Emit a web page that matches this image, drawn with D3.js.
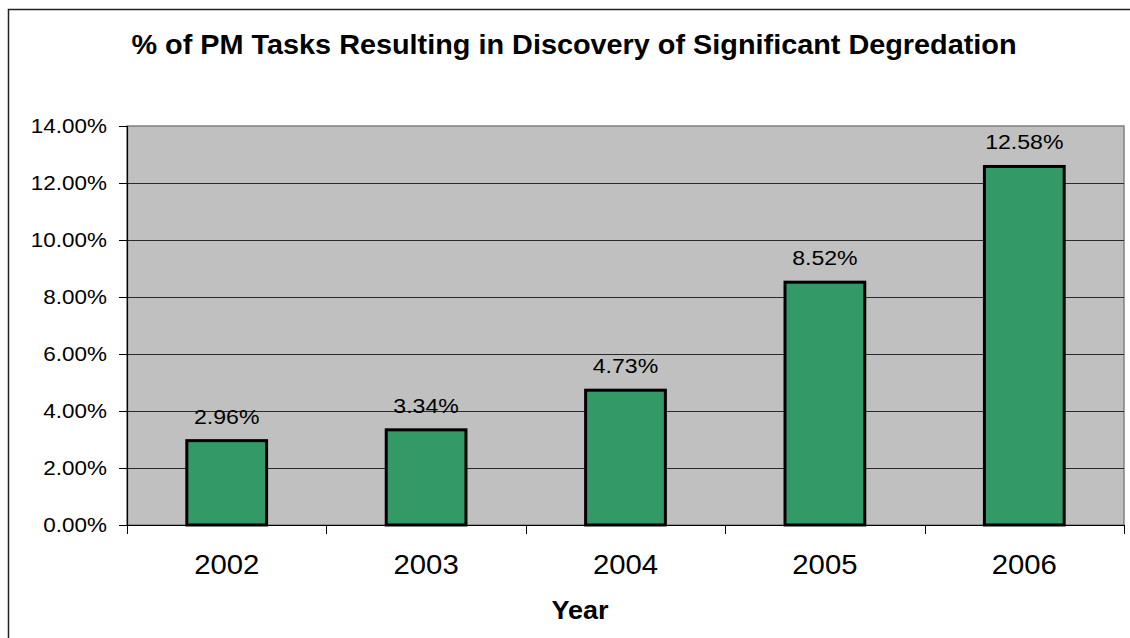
<!DOCTYPE html>
<html>
<head>
<meta charset="utf-8">
<script src="https://cdn.jsdelivr.net/npm/d3@7"></script>
<style>
  html, body { margin: 0; padding: 0; background: #fff; }
  svg { display: block; font-family: "Liberation Sans", Arial, sans-serif; }
</style>
</head>
<body>
<svg id="chart" width="1130" height="638"></svg>
<script>
// Share of PM tasks that turned up significant degradation, per year
const years = ["2002", "2003", "2004", "2005", "2006"];
const shares = [2.96, 3.34, 4.73, 8.52, 12.58];
const yTicks = [0, 2, 4, 6, 8, 10, 12, 14];

const svg = d3.select("#chart");
const W = 1130, H = 638;
const plot = { left: 127, top: 126, right: 1124, bottom: 525 };

// the chart's lettering is set slightly wide
const place = (px, py, sx) => `translate(${px},${py}) scale(${sx},1)`;

// outer chart frame
svg.append("rect")
  .attr("x", 8.5).attr("y", 9.5)
  .attr("width", W + 10).attr("height", H + 10)
  .attr("fill", "#fff").attr("stroke", "#222").attr("stroke-width", 1.5);

const x = d3.scaleBand().domain(years).range([plot.left, plot.right]).paddingInner(0).paddingOuter(0);
const y = d3.scaleLinear().domain([0, 14]).range([plot.bottom, plot.top]);

// plot background
svg.append("rect")
  .attr("x", plot.left).attr("y", plot.top)
  .attr("width", plot.right - plot.left).attr("height", plot.bottom - plot.top)
  .attr("fill", "#c0c0c0").attr("stroke", "#808080").attr("stroke-width", 1.5);

// horizontal gridlines
svg.append("g").selectAll("line")
  .data(yTicks.filter(t => t > 0 && t < 14))
  .join("line")
  .attr("x1", plot.left).attr("x2", plot.right)
  .attr("y1", d => Math.round(y(d)) + 0.5).attr("y2", d => Math.round(y(d)) + 0.5)
  .attr("stroke", "#2a2a2a").attr("stroke-width", 1);

// bars
const barW = x.bandwidth() * 0.4;
const rows = years.map((k, i) => ({ k, v: shares[i] }));
svg.append("g").selectAll("rect")
  .data(rows)
  .join("rect")
  .attr("x", d => x(d.k) + (x.bandwidth() - barW) / 2)
  .attr("y", d => y(d.v))
  .attr("width", barW)
  .attr("height", d => y(0) - y(d.v))
  .attr("fill", "#339966")
  .attr("stroke", "#000").attr("stroke-width", 3);

// value labels
svg.append("g").selectAll("text")
  .data(rows)
  .join("text")
  .attr("transform", d => place(x(d.k) + x.bandwidth() / 2, y(d.v) - 17, 1.1))
  .attr("text-anchor", "middle")
  .attr("font-size", 21)
  .attr("fill", "#000")
  .text(d => d.v.toFixed(2) + "%");

// y axis
const yAxis = d3.axisLeft(y).tickValues(yTicks).tickSize(8).tickPadding(12)
  .tickFormat(d => d.toFixed(2) + "%");
const gy = svg.append("g").attr("transform", `translate(${plot.left},0)`).call(yAxis);
gy.select(".domain").attr("stroke", "#000").attr("stroke-width", 1.2).attr("d", `M0.5,${plot.top}V${plot.bottom}`);
gy.selectAll(".tick line").attr("stroke", "#000");
gy.selectAll(".tick text")
  .attr("x", null)
  .attr("transform", place(-20, 0, 1.07))
  .attr("font-size", 21).attr("font-family", "Liberation Sans, Arial, sans-serif").attr("fill", "#000");

// x axis: ticks sit on the category boundaries
const gx = svg.append("g").attr("transform", `translate(0,${plot.bottom})`);
gx.append("line")
  .attr("x1", plot.left).attr("x2", plot.right)
  .attr("y1", 0.5).attr("y2", 0.5)
  .attr("stroke", "#000").attr("stroke-width", 1.2);
const bounds = years.map(k => x(k)).concat([plot.right]);
gx.selectAll("line.tk").data(bounds).join("line").attr("class", "tk")
  .attr("x1", d => Math.round(d) + 0.5).attr("x2", d => Math.round(d) + 0.5)
  .attr("y1", 0).attr("y2", 9)
  .attr("stroke", "#000");
gx.selectAll("text").data(years).join("text")
  .attr("transform", d => place(x(d) + x.bandwidth() / 2, 49, 1.085))
  .attr("text-anchor", "middle")
  .attr("font-size", 27)
  .attr("fill", "#000")
  .text(d => d);

// axis title
svg.append("text")
  .attr("transform", place(580, 619, 1.08))
  .attr("text-anchor", "middle")
  .attr("font-size", 25).attr("font-weight", "bold")
  .text("Year");

// chart title
svg.append("text")
  .attr("transform", place(574, 54, 1.03))
  .attr("text-anchor", "middle")
  .attr("font-size", 28).attr("font-weight", "bold")
  .text("% of PM Tasks Resulting in Discovery of Significant Degredation");
</script>
</body>
</html>
